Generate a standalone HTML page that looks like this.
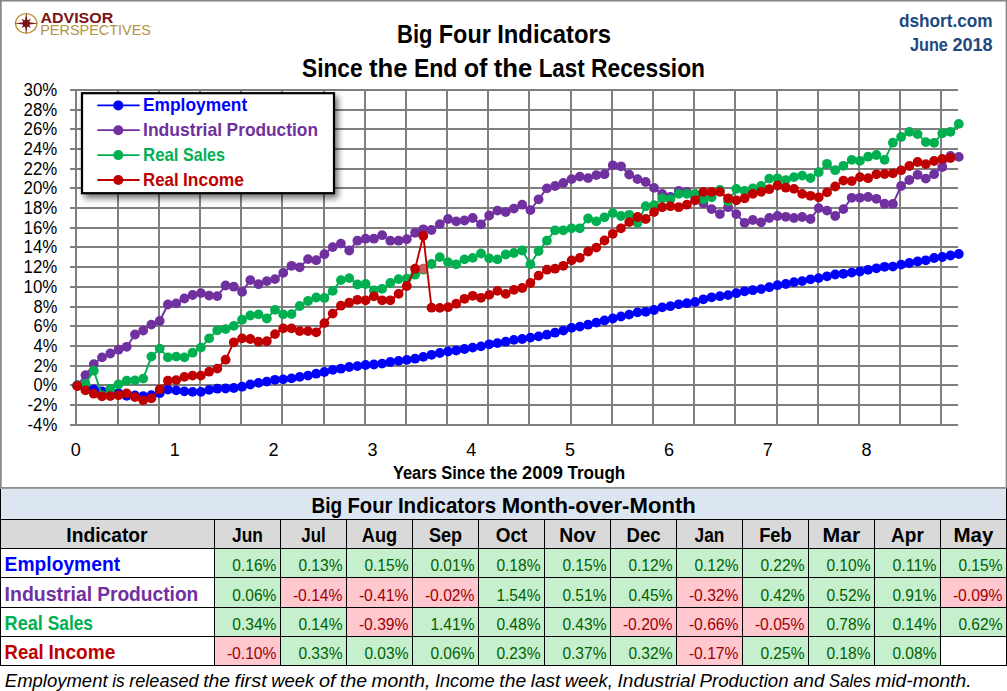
<!DOCTYPE html>
<html lang="en"><head><meta charset="utf-8"><title>Big Four Indicators</title>
<style>html,body{margin:0;padding:0;background:#fff}svg{display:block}</style></head>
<body>
<svg width="1007" height="691" viewBox="0 0 1007 691" font-family='"Liberation Sans", sans-serif'>
<defs><filter id="sh" x="-10%" y="-10%" width="130%" height="140%"><feGaussianBlur in="SourceAlpha" stdDeviation="3.3"/><feOffset dx="3" dy="4" result="b"/><feComponentTransfer><feFuncA type="linear" slope="0.55"/></feComponentTransfer><feMerge><feMergeNode/><feMergeNode in="SourceGraphic"/></feMerge></filter></defs>
<rect x="0" y="0" width="1007" height="691" fill="#ffffff"/>
<rect x="0.85" y="0.7" width="1005.65" height="487.25" fill="#ffffff" stroke="#868686" stroke-width="1.7"/>
<path d="M70 90H958 M70 110H958 M70 129H958 M70 149H958 M70 169H958 M70 188H958 M70 208H958 M70 228H958 M70 247H958 M70 267H958 M70 287H958 M70 307H958 M70 326H958 M70 346H958 M70 366H958 M70 385H958 M70 405H958 M70 425H958 M76 89V426 M118 89V426 M159 89V426 M200 89V426 M241 89V426 M282 89V426 M324 89V426 M365 89V426 M406 89V426 M447 89V426 M488 89V426 M529 89V426 M571 89V426 M612 89V426 M653 89V426 M694 89V426 M735 89V426 M777 89V426 M818 89V426 M859 89V426 M900 89V426 M941 89V426" stroke="#7f7f7f" stroke-width="2" fill="none" shape-rendering="crispEdges"/>
<g font-size="18" fill="#000">
<text x="23.6" y="95.9" textLength="33.7" lengthAdjust="spacingAndGlyphs">30%</text>
<text x="23.6" y="115.9" textLength="33.7" lengthAdjust="spacingAndGlyphs">28%</text>
<text x="23.6" y="134.9" textLength="33.7" lengthAdjust="spacingAndGlyphs">26%</text>
<text x="23.6" y="154.9" textLength="33.7" lengthAdjust="spacingAndGlyphs">24%</text>
<text x="23.6" y="174.9" textLength="33.7" lengthAdjust="spacingAndGlyphs">22%</text>
<text x="23.6" y="193.9" textLength="33.7" lengthAdjust="spacingAndGlyphs">20%</text>
<text x="23.6" y="213.9" textLength="33.7" lengthAdjust="spacingAndGlyphs">18%</text>
<text x="23.6" y="233.9" textLength="33.7" lengthAdjust="spacingAndGlyphs">16%</text>
<text x="23.6" y="252.9" textLength="33.7" lengthAdjust="spacingAndGlyphs">14%</text>
<text x="23.6" y="272.9" textLength="33.7" lengthAdjust="spacingAndGlyphs">12%</text>
<text x="23.6" y="292.9" textLength="33.7" lengthAdjust="spacingAndGlyphs">10%</text>
<text x="33.5" y="312.9" textLength="23.8" lengthAdjust="spacingAndGlyphs">8%</text>
<text x="33.5" y="331.9" textLength="23.8" lengthAdjust="spacingAndGlyphs">6%</text>
<text x="33.5" y="351.9" textLength="23.8" lengthAdjust="spacingAndGlyphs">4%</text>
<text x="33.5" y="371.9" textLength="23.8" lengthAdjust="spacingAndGlyphs">2%</text>
<text x="33.5" y="390.9" textLength="23.8" lengthAdjust="spacingAndGlyphs">0%</text>
<text x="27.5" y="410.9" textLength="29.8" lengthAdjust="spacingAndGlyphs">-2%</text>
<text x="27.5" y="430.9" textLength="29.8" lengthAdjust="spacingAndGlyphs">-4%</text>
</g>
<g font-size="18" text-anchor="middle" fill="#000">
<text x="75.8" y="455.7">0</text>
<text x="174.7" y="455.7">1</text>
<text x="273.5" y="455.7">2</text>
<text x="372.4" y="455.7">3</text>
<text x="471.2" y="455.7">4</text>
<text x="570.1" y="455.7">5</text>
<text x="668.9" y="455.7">6</text>
<text x="767.8" y="455.7">7</text>
<text x="866.6" y="455.7">8</text>
</g>
<text y="478.6" font-size="18.8" font-weight="bold"><tspan x="392.9" textLength="43.9" lengthAdjust="spacingAndGlyphs">Years</tspan> <tspan x="441.3" textLength="43.8" lengthAdjust="spacingAndGlyphs">Since</tspan> <tspan x="489.7" textLength="27.9" lengthAdjust="spacingAndGlyphs">the</tspan> <tspan x="522.1" textLength="40.8" lengthAdjust="spacingAndGlyphs">2009</tspan> <tspan x="567.5" textLength="57.8" lengthAdjust="spacingAndGlyphs">Trough</tspan></text>
<polyline points="77.3,385.5 85.5,388.0 93.8,389.5 102.0,391.3 110.3,392.8 118.5,393.2 126.7,395.8 135.0,395.4 143.2,396.1 151.4,395.2 159.7,393.2 167.9,389.6 176.2,390.4 184.4,391.4 192.6,391.9 200.9,391.9 209.1,389.9 217.3,388.7 225.6,388.5 233.8,388.0 242.1,386.7 250.3,384.5 258.5,382.9 266.8,381.6 275.0,379.8 283.2,379.4 291.5,378.4 299.7,376.9 308.0,375.6 316.2,373.7 324.4,372.0 332.7,369.9 340.9,368.7 349.2,367.0 357.4,366.1 365.6,365.0 373.9,364.5 382.1,363.6 390.3,362.0 398.6,360.9 406.8,359.9 415.1,358.7 423.3,356.9 431.5,354.8 439.8,353.0 448.0,351.5 456.2,350.5 464.5,349.0 472.7,347.6 481.0,346.4 489.2,344.3 497.4,343.1 505.7,341.7 513.9,339.9 522.2,339.0 530.4,337.6 538.6,336.4 546.9,334.7 555.1,332.7 563.3,330.6 571.6,327.9 579.8,326.6 588.1,324.7 596.3,322.6 604.5,320.5 612.8,318.5 621.0,316.5 629.2,314.6 637.5,312.4 645.7,311.8 654.0,310.0 662.2,307.4 670.4,306.2 678.7,304.3 686.9,303.2 695.1,302.0 703.4,299.3 711.6,297.3 719.9,296.2 728.1,295.1 736.3,293.2 744.6,291.3 752.8,290.2 761.1,289.1 769.3,287.2 777.5,285.2 785.8,284.0 794.0,282.2 802.2,281.1 810.5,279.3 818.7,278.1 827.0,276.3 835.2,274.5 843.4,273.8 851.7,272.6 859.9,271.5 868.1,269.8 876.4,268.3 884.6,266.8 892.9,266.6 901.1,264.6 909.3,263.0 917.6,261.5 925.8,260.3 934.1,258.0 942.3,257.0 950.5,255.5 958.8,254.0" fill="none" stroke="#0000ff" stroke-width="1.9" stroke-linejoin="round" stroke-linecap="round"/>
<g fill="#0000ff"><circle cx="77.3" cy="385.5" r="4.9"/><circle cx="85.5" cy="388.0" r="4.9"/><circle cx="93.8" cy="389.5" r="4.9"/><circle cx="102.0" cy="391.3" r="4.9"/><circle cx="110.3" cy="392.8" r="4.9"/><circle cx="118.5" cy="393.2" r="4.9"/><circle cx="126.7" cy="395.8" r="4.9"/><circle cx="135.0" cy="395.4" r="4.9"/><circle cx="143.2" cy="396.1" r="4.9"/><circle cx="151.4" cy="395.2" r="4.9"/><circle cx="159.7" cy="393.2" r="4.9"/><circle cx="167.9" cy="389.6" r="4.9"/><circle cx="176.2" cy="390.4" r="4.9"/><circle cx="184.4" cy="391.4" r="4.9"/><circle cx="192.6" cy="391.9" r="4.9"/><circle cx="200.9" cy="391.9" r="4.9"/><circle cx="209.1" cy="389.9" r="4.9"/><circle cx="217.3" cy="388.7" r="4.9"/><circle cx="225.6" cy="388.5" r="4.9"/><circle cx="233.8" cy="388.0" r="4.9"/><circle cx="242.1" cy="386.7" r="4.9"/><circle cx="250.3" cy="384.5" r="4.9"/><circle cx="258.5" cy="382.9" r="4.9"/><circle cx="266.8" cy="381.6" r="4.9"/><circle cx="275.0" cy="379.8" r="4.9"/><circle cx="283.2" cy="379.4" r="4.9"/><circle cx="291.5" cy="378.4" r="4.9"/><circle cx="299.7" cy="376.9" r="4.9"/><circle cx="308.0" cy="375.6" r="4.9"/><circle cx="316.2" cy="373.7" r="4.9"/><circle cx="324.4" cy="372.0" r="4.9"/><circle cx="332.7" cy="369.9" r="4.9"/><circle cx="340.9" cy="368.7" r="4.9"/><circle cx="349.2" cy="367.0" r="4.9"/><circle cx="357.4" cy="366.1" r="4.9"/><circle cx="365.6" cy="365.0" r="4.9"/><circle cx="373.9" cy="364.5" r="4.9"/><circle cx="382.1" cy="363.6" r="4.9"/><circle cx="390.3" cy="362.0" r="4.9"/><circle cx="398.6" cy="360.9" r="4.9"/><circle cx="406.8" cy="359.9" r="4.9"/><circle cx="415.1" cy="358.7" r="4.9"/><circle cx="423.3" cy="356.9" r="4.9"/><circle cx="431.5" cy="354.8" r="4.9"/><circle cx="439.8" cy="353.0" r="4.9"/><circle cx="448.0" cy="351.5" r="4.9"/><circle cx="456.2" cy="350.5" r="4.9"/><circle cx="464.5" cy="349.0" r="4.9"/><circle cx="472.7" cy="347.6" r="4.9"/><circle cx="481.0" cy="346.4" r="4.9"/><circle cx="489.2" cy="344.3" r="4.9"/><circle cx="497.4" cy="343.1" r="4.9"/><circle cx="505.7" cy="341.7" r="4.9"/><circle cx="513.9" cy="339.9" r="4.9"/><circle cx="522.2" cy="339.0" r="4.9"/><circle cx="530.4" cy="337.6" r="4.9"/><circle cx="538.6" cy="336.4" r="4.9"/><circle cx="546.9" cy="334.7" r="4.9"/><circle cx="555.1" cy="332.7" r="4.9"/><circle cx="563.3" cy="330.6" r="4.9"/><circle cx="571.6" cy="327.9" r="4.9"/><circle cx="579.8" cy="326.6" r="4.9"/><circle cx="588.1" cy="324.7" r="4.9"/><circle cx="596.3" cy="322.6" r="4.9"/><circle cx="604.5" cy="320.5" r="4.9"/><circle cx="612.8" cy="318.5" r="4.9"/><circle cx="621.0" cy="316.5" r="4.9"/><circle cx="629.2" cy="314.6" r="4.9"/><circle cx="637.5" cy="312.4" r="4.9"/><circle cx="645.7" cy="311.8" r="4.9"/><circle cx="654.0" cy="310.0" r="4.9"/><circle cx="662.2" cy="307.4" r="4.9"/><circle cx="670.4" cy="306.2" r="4.9"/><circle cx="678.7" cy="304.3" r="4.9"/><circle cx="686.9" cy="303.2" r="4.9"/><circle cx="695.1" cy="302.0" r="4.9"/><circle cx="703.4" cy="299.3" r="4.9"/><circle cx="711.6" cy="297.3" r="4.9"/><circle cx="719.9" cy="296.2" r="4.9"/><circle cx="728.1" cy="295.1" r="4.9"/><circle cx="736.3" cy="293.2" r="4.9"/><circle cx="744.6" cy="291.3" r="4.9"/><circle cx="752.8" cy="290.2" r="4.9"/><circle cx="761.1" cy="289.1" r="4.9"/><circle cx="769.3" cy="287.2" r="4.9"/><circle cx="777.5" cy="285.2" r="4.9"/><circle cx="785.8" cy="284.0" r="4.9"/><circle cx="794.0" cy="282.2" r="4.9"/><circle cx="802.2" cy="281.1" r="4.9"/><circle cx="810.5" cy="279.3" r="4.9"/><circle cx="818.7" cy="278.1" r="4.9"/><circle cx="827.0" cy="276.3" r="4.9"/><circle cx="835.2" cy="274.5" r="4.9"/><circle cx="843.4" cy="273.8" r="4.9"/><circle cx="851.7" cy="272.6" r="4.9"/><circle cx="859.9" cy="271.5" r="4.9"/><circle cx="868.1" cy="269.8" r="4.9"/><circle cx="876.4" cy="268.3" r="4.9"/><circle cx="884.6" cy="266.8" r="4.9"/><circle cx="892.9" cy="266.6" r="4.9"/><circle cx="901.1" cy="264.6" r="4.9"/><circle cx="909.3" cy="263.0" r="4.9"/><circle cx="917.6" cy="261.5" r="4.9"/><circle cx="925.8" cy="260.3" r="4.9"/><circle cx="934.1" cy="258.0" r="4.9"/><circle cx="942.3" cy="257.0" r="4.9"/><circle cx="950.5" cy="255.5" r="4.9"/><circle cx="958.8" cy="254.0" r="4.9"/></g>
<polyline points="77.3,385.5 85.5,375.2 93.8,364.1 102.0,357.4 110.3,353.5 118.5,349.7 126.7,346.8 135.0,334.5 143.2,330.5 151.4,324.6 159.7,321.0 167.9,304.5 176.2,303.4 184.4,298.5 192.6,295.0 200.9,293.1 209.1,295.6 217.3,296.1 225.6,285.5 233.8,286.7 242.1,291.9 250.3,280.1 258.5,284.2 266.8,281.1 275.0,279.1 283.2,272.9 291.5,265.8 299.7,267.3 308.0,259.1 316.2,260.2 324.4,254.2 332.7,247.1 340.9,243.6 349.2,250.5 357.4,240.7 365.6,238.7 373.9,238.7 382.1,235.2 390.3,240.7 398.6,240.7 406.8,239.2 415.1,232.8 423.3,229.3 431.5,230.0 439.8,224.1 448.0,219.0 456.2,221.4 464.5,220.5 472.7,218.0 481.0,224.4 489.2,215.5 497.4,210.6 505.7,212.1 513.9,208.6 522.2,204.7 530.4,210.1 538.6,199.3 546.9,188.4 555.1,186.0 563.3,183.0 571.6,179.1 579.8,176.6 588.1,178.1 596.3,175.1 604.5,174.2 612.8,165.3 621.0,166.3 629.2,174.6 637.5,179.1 645.7,182.0 654.0,187.9 662.2,193.9 670.4,196.8 678.7,190.9 686.9,191.9 695.1,196.3 703.4,203.2 711.6,209.1 719.9,214.1 728.1,207.2 736.3,214.1 744.6,222.9 752.8,220.0 761.1,222.4 769.3,218.0 777.5,216.0 785.8,216.8 794.0,218.0 802.2,217.0 810.5,219.0 818.7,208.1 827.0,210.6 835.2,216.0 843.4,209.1 851.7,197.8 859.9,197.8 868.1,197.0 876.4,198.8 884.6,203.7 892.9,203.9 901.1,186.0 909.3,180.0 917.6,174.8 925.8,178.6 934.1,174.2 942.3,167.0 950.5,155.9 958.8,156.9" fill="none" stroke="#7030a0" stroke-width="1.9" stroke-linejoin="round" stroke-linecap="round"/>
<g fill="#7030a0"><circle cx="77.3" cy="385.5" r="4.9"/><circle cx="85.5" cy="375.2" r="4.9"/><circle cx="93.8" cy="364.1" r="4.9"/><circle cx="102.0" cy="357.4" r="4.9"/><circle cx="110.3" cy="353.5" r="4.9"/><circle cx="118.5" cy="349.7" r="4.9"/><circle cx="126.7" cy="346.8" r="4.9"/><circle cx="135.0" cy="334.5" r="4.9"/><circle cx="143.2" cy="330.5" r="4.9"/><circle cx="151.4" cy="324.6" r="4.9"/><circle cx="159.7" cy="321.0" r="4.9"/><circle cx="167.9" cy="304.5" r="4.9"/><circle cx="176.2" cy="303.4" r="4.9"/><circle cx="184.4" cy="298.5" r="4.9"/><circle cx="192.6" cy="295.0" r="4.9"/><circle cx="200.9" cy="293.1" r="4.9"/><circle cx="209.1" cy="295.6" r="4.9"/><circle cx="217.3" cy="296.1" r="4.9"/><circle cx="225.6" cy="285.5" r="4.9"/><circle cx="233.8" cy="286.7" r="4.9"/><circle cx="242.1" cy="291.9" r="4.9"/><circle cx="250.3" cy="280.1" r="4.9"/><circle cx="258.5" cy="284.2" r="4.9"/><circle cx="266.8" cy="281.1" r="4.9"/><circle cx="275.0" cy="279.1" r="4.9"/><circle cx="283.2" cy="272.9" r="4.9"/><circle cx="291.5" cy="265.8" r="4.9"/><circle cx="299.7" cy="267.3" r="4.9"/><circle cx="308.0" cy="259.1" r="4.9"/><circle cx="316.2" cy="260.2" r="4.9"/><circle cx="324.4" cy="254.2" r="4.9"/><circle cx="332.7" cy="247.1" r="4.9"/><circle cx="340.9" cy="243.6" r="4.9"/><circle cx="349.2" cy="250.5" r="4.9"/><circle cx="357.4" cy="240.7" r="4.9"/><circle cx="365.6" cy="238.7" r="4.9"/><circle cx="373.9" cy="238.7" r="4.9"/><circle cx="382.1" cy="235.2" r="4.9"/><circle cx="390.3" cy="240.7" r="4.9"/><circle cx="398.6" cy="240.7" r="4.9"/><circle cx="406.8" cy="239.2" r="4.9"/><circle cx="415.1" cy="232.8" r="4.9"/><circle cx="423.3" cy="229.3" r="4.9"/><circle cx="431.5" cy="230.0" r="4.9"/><circle cx="439.8" cy="224.1" r="4.9"/><circle cx="448.0" cy="219.0" r="4.9"/><circle cx="456.2" cy="221.4" r="4.9"/><circle cx="464.5" cy="220.5" r="4.9"/><circle cx="472.7" cy="218.0" r="4.9"/><circle cx="481.0" cy="224.4" r="4.9"/><circle cx="489.2" cy="215.5" r="4.9"/><circle cx="497.4" cy="210.6" r="4.9"/><circle cx="505.7" cy="212.1" r="4.9"/><circle cx="513.9" cy="208.6" r="4.9"/><circle cx="522.2" cy="204.7" r="4.9"/><circle cx="530.4" cy="210.1" r="4.9"/><circle cx="538.6" cy="199.3" r="4.9"/><circle cx="546.9" cy="188.4" r="4.9"/><circle cx="555.1" cy="186.0" r="4.9"/><circle cx="563.3" cy="183.0" r="4.9"/><circle cx="571.6" cy="179.1" r="4.9"/><circle cx="579.8" cy="176.6" r="4.9"/><circle cx="588.1" cy="178.1" r="4.9"/><circle cx="596.3" cy="175.1" r="4.9"/><circle cx="604.5" cy="174.2" r="4.9"/><circle cx="612.8" cy="165.3" r="4.9"/><circle cx="621.0" cy="166.3" r="4.9"/><circle cx="629.2" cy="174.6" r="4.9"/><circle cx="637.5" cy="179.1" r="4.9"/><circle cx="645.7" cy="182.0" r="4.9"/><circle cx="654.0" cy="187.9" r="4.9"/><circle cx="662.2" cy="193.9" r="4.9"/><circle cx="670.4" cy="196.8" r="4.9"/><circle cx="678.7" cy="190.9" r="4.9"/><circle cx="686.9" cy="191.9" r="4.9"/><circle cx="695.1" cy="196.3" r="4.9"/><circle cx="703.4" cy="203.2" r="4.9"/><circle cx="711.6" cy="209.1" r="4.9"/><circle cx="719.9" cy="214.1" r="4.9"/><circle cx="728.1" cy="207.2" r="4.9"/><circle cx="736.3" cy="214.1" r="4.9"/><circle cx="744.6" cy="222.9" r="4.9"/><circle cx="752.8" cy="220.0" r="4.9"/><circle cx="761.1" cy="222.4" r="4.9"/><circle cx="769.3" cy="218.0" r="4.9"/><circle cx="777.5" cy="216.0" r="4.9"/><circle cx="785.8" cy="216.8" r="4.9"/><circle cx="794.0" cy="218.0" r="4.9"/><circle cx="802.2" cy="217.0" r="4.9"/><circle cx="810.5" cy="219.0" r="4.9"/><circle cx="818.7" cy="208.1" r="4.9"/><circle cx="827.0" cy="210.6" r="4.9"/><circle cx="835.2" cy="216.0" r="4.9"/><circle cx="843.4" cy="209.1" r="4.9"/><circle cx="851.7" cy="197.8" r="4.9"/><circle cx="859.9" cy="197.8" r="4.9"/><circle cx="868.1" cy="197.0" r="4.9"/><circle cx="876.4" cy="198.8" r="4.9"/><circle cx="884.6" cy="203.7" r="4.9"/><circle cx="892.9" cy="203.9" r="4.9"/><circle cx="901.1" cy="186.0" r="4.9"/><circle cx="909.3" cy="180.0" r="4.9"/><circle cx="917.6" cy="174.8" r="4.9"/><circle cx="925.8" cy="178.6" r="4.9"/><circle cx="934.1" cy="174.2" r="4.9"/><circle cx="942.3" cy="167.0" r="4.9"/><circle cx="950.5" cy="155.9" r="4.9"/><circle cx="958.8" cy="156.9" r="4.9"/></g>
<polyline points="77.3,385.5 85.5,383.8 93.8,370.7 102.0,395.4 110.3,388.9 118.5,384.3 126.7,380.6 135.0,380.4 143.2,378.6 151.4,356.6 159.7,348.6 167.9,357.4 176.2,356.6 184.4,357.4 192.6,352.7 200.9,347.6 209.1,338.4 217.3,330.3 225.6,329.1 233.8,325.9 242.1,319.7 250.3,315.5 258.5,314.4 266.8,318.5 275.0,309.9 283.2,314.4 291.5,314.1 299.7,306.0 308.0,301.0 316.2,297.5 324.4,298.0 332.7,290.9 340.9,280.1 349.2,278.1 357.4,284.5 365.6,284.0 373.9,290.4 382.1,288.9 390.3,283.0 398.6,279.1 406.8,278.6 415.1,274.7 423.3,269.7 431.5,264.0 439.8,257.1 448.0,262.1 456.2,264.3 464.5,259.4 472.7,257.9 481.0,253.5 489.2,258.4 497.4,259.4 505.7,254.5 513.9,253.0 522.2,250.5 530.4,264.3 538.6,251.0 546.9,240.7 555.1,230.3 563.3,230.3 571.6,228.3 579.8,228.3 588.1,218.5 596.3,221.4 604.5,217.3 612.8,213.1 621.0,216.0 629.2,214.8 637.5,222.9 645.7,206.2 654.0,205.2 662.2,198.3 670.4,199.3 678.7,193.9 686.9,193.9 695.1,193.9 703.4,199.3 711.6,197.3 719.9,189.9 728.1,201.2 736.3,188.9 744.6,190.9 752.8,188.4 761.1,186.0 769.3,178.6 777.5,178.3 785.8,180.1 794.0,177.1 802.2,175.6 810.5,178.1 818.7,172.2 827.0,163.8 835.2,170.2 843.4,165.8 851.7,159.9 859.9,160.9 868.1,156.7 876.4,155.0 884.6,159.8 892.9,142.7 901.1,137.0 909.3,131.9 917.6,134.1 925.8,142.1 934.1,142.8 942.3,133.3 950.5,131.8 958.8,123.9" fill="none" stroke="#00b050" stroke-width="1.9" stroke-linejoin="round" stroke-linecap="round"/>
<g fill="#00b050"><circle cx="77.3" cy="385.5" r="4.9"/><circle cx="85.5" cy="383.8" r="4.9"/><circle cx="93.8" cy="370.7" r="4.9"/><circle cx="102.0" cy="395.4" r="4.9"/><circle cx="110.3" cy="388.9" r="4.9"/><circle cx="118.5" cy="384.3" r="4.9"/><circle cx="126.7" cy="380.6" r="4.9"/><circle cx="135.0" cy="380.4" r="4.9"/><circle cx="143.2" cy="378.6" r="4.9"/><circle cx="151.4" cy="356.6" r="4.9"/><circle cx="159.7" cy="348.6" r="4.9"/><circle cx="167.9" cy="357.4" r="4.9"/><circle cx="176.2" cy="356.6" r="4.9"/><circle cx="184.4" cy="357.4" r="4.9"/><circle cx="192.6" cy="352.7" r="4.9"/><circle cx="200.9" cy="347.6" r="4.9"/><circle cx="209.1" cy="338.4" r="4.9"/><circle cx="217.3" cy="330.3" r="4.9"/><circle cx="225.6" cy="329.1" r="4.9"/><circle cx="233.8" cy="325.9" r="4.9"/><circle cx="242.1" cy="319.7" r="4.9"/><circle cx="250.3" cy="315.5" r="4.9"/><circle cx="258.5" cy="314.4" r="4.9"/><circle cx="266.8" cy="318.5" r="4.9"/><circle cx="275.0" cy="309.9" r="4.9"/><circle cx="283.2" cy="314.4" r="4.9"/><circle cx="291.5" cy="314.1" r="4.9"/><circle cx="299.7" cy="306.0" r="4.9"/><circle cx="308.0" cy="301.0" r="4.9"/><circle cx="316.2" cy="297.5" r="4.9"/><circle cx="324.4" cy="298.0" r="4.9"/><circle cx="332.7" cy="290.9" r="4.9"/><circle cx="340.9" cy="280.1" r="4.9"/><circle cx="349.2" cy="278.1" r="4.9"/><circle cx="357.4" cy="284.5" r="4.9"/><circle cx="365.6" cy="284.0" r="4.9"/><circle cx="373.9" cy="290.4" r="4.9"/><circle cx="382.1" cy="288.9" r="4.9"/><circle cx="390.3" cy="283.0" r="4.9"/><circle cx="398.6" cy="279.1" r="4.9"/><circle cx="406.8" cy="278.6" r="4.9"/><circle cx="415.1" cy="274.7" r="4.9"/><circle cx="423.3" cy="269.7" r="4.9"/><circle cx="431.5" cy="264.0" r="4.9"/><circle cx="439.8" cy="257.1" r="4.9"/><circle cx="448.0" cy="262.1" r="4.9"/><circle cx="456.2" cy="264.3" r="4.9"/><circle cx="464.5" cy="259.4" r="4.9"/><circle cx="472.7" cy="257.9" r="4.9"/><circle cx="481.0" cy="253.5" r="4.9"/><circle cx="489.2" cy="258.4" r="4.9"/><circle cx="497.4" cy="259.4" r="4.9"/><circle cx="505.7" cy="254.5" r="4.9"/><circle cx="513.9" cy="253.0" r="4.9"/><circle cx="522.2" cy="250.5" r="4.9"/><circle cx="530.4" cy="264.3" r="4.9"/><circle cx="538.6" cy="251.0" r="4.9"/><circle cx="546.9" cy="240.7" r="4.9"/><circle cx="555.1" cy="230.3" r="4.9"/><circle cx="563.3" cy="230.3" r="4.9"/><circle cx="571.6" cy="228.3" r="4.9"/><circle cx="579.8" cy="228.3" r="4.9"/><circle cx="588.1" cy="218.5" r="4.9"/><circle cx="596.3" cy="221.4" r="4.9"/><circle cx="604.5" cy="217.3" r="4.9"/><circle cx="612.8" cy="213.1" r="4.9"/><circle cx="621.0" cy="216.0" r="4.9"/><circle cx="629.2" cy="214.8" r="4.9"/><circle cx="637.5" cy="222.9" r="4.9"/><circle cx="645.7" cy="206.2" r="4.9"/><circle cx="654.0" cy="205.2" r="4.9"/><circle cx="662.2" cy="198.3" r="4.9"/><circle cx="670.4" cy="199.3" r="4.9"/><circle cx="678.7" cy="193.9" r="4.9"/><circle cx="686.9" cy="193.9" r="4.9"/><circle cx="695.1" cy="193.9" r="4.9"/><circle cx="703.4" cy="199.3" r="4.9"/><circle cx="711.6" cy="197.3" r="4.9"/><circle cx="719.9" cy="189.9" r="4.9"/><circle cx="728.1" cy="201.2" r="4.9"/><circle cx="736.3" cy="188.9" r="4.9"/><circle cx="744.6" cy="190.9" r="4.9"/><circle cx="752.8" cy="188.4" r="4.9"/><circle cx="761.1" cy="186.0" r="4.9"/><circle cx="769.3" cy="178.6" r="4.9"/><circle cx="777.5" cy="178.3" r="4.9"/><circle cx="785.8" cy="180.1" r="4.9"/><circle cx="794.0" cy="177.1" r="4.9"/><circle cx="802.2" cy="175.6" r="4.9"/><circle cx="810.5" cy="178.1" r="4.9"/><circle cx="818.7" cy="172.2" r="4.9"/><circle cx="827.0" cy="163.8" r="4.9"/><circle cx="835.2" cy="170.2" r="4.9"/><circle cx="843.4" cy="165.8" r="4.9"/><circle cx="851.7" cy="159.9" r="4.9"/><circle cx="859.9" cy="160.9" r="4.9"/><circle cx="868.1" cy="156.7" r="4.9"/><circle cx="876.4" cy="155.0" r="4.9"/><circle cx="884.6" cy="159.8" r="4.9"/><circle cx="892.9" cy="142.7" r="4.9"/><circle cx="901.1" cy="137.0" r="4.9"/><circle cx="909.3" cy="131.9" r="4.9"/><circle cx="917.6" cy="134.1" r="4.9"/><circle cx="925.8" cy="142.1" r="4.9"/><circle cx="934.1" cy="142.8" r="4.9"/><circle cx="942.3" cy="133.3" r="4.9"/><circle cx="950.5" cy="131.8" r="4.9"/><circle cx="958.8" cy="123.9" r="4.9"/></g>
<circle cx="423.3" cy="268.7" r="4.9" fill="#c95c5c"/>
<polyline points="77.3,386.0 85.5,390.4 93.8,393.7 102.0,396.3 110.3,396.1 118.5,395.2 126.7,393.4 135.0,397.1 143.2,400.3 151.4,398.3 159.7,389.4 167.9,380.6 176.2,380.1 184.4,376.9 192.6,375.6 200.9,375.6 209.1,371.7 217.3,368.6 225.6,359.7 233.8,342.3 242.1,338.4 250.3,339.0 258.5,341.7 266.8,341.2 275.0,334.1 283.2,328.4 291.5,328.4 299.7,331.1 308.0,331.1 316.2,332.3 324.4,323.1 332.7,313.6 340.9,305.7 349.2,302.7 357.4,299.8 365.6,300.3 373.9,296.3 382.1,300.3 390.3,300.3 398.6,293.9 406.8,286.0 415.1,268.7 423.3,235.7 431.5,307.7 439.8,307.9 448.0,307.2 456.2,303.7 464.5,298.8 472.7,295.8 481.0,297.8 489.2,294.9 497.4,290.9 505.7,293.9 513.9,289.9 522.2,288.0 530.4,283.0 538.6,275.6 546.9,269.7 555.1,268.7 563.3,265.8 571.6,260.4 579.8,257.9 588.1,251.5 596.3,247.6 604.5,240.5 612.8,233.8 621.0,228.3 629.2,222.1 637.5,217.0 645.7,219.0 654.0,212.1 662.2,207.2 670.4,206.2 678.7,207.2 686.9,204.7 695.1,200.3 703.4,191.9 711.6,191.9 719.9,191.9 728.1,198.3 736.3,200.3 744.6,198.3 752.8,193.9 761.1,191.9 769.3,189.2 777.5,185.5 785.8,187.7 794.0,188.9 802.2,193.9 810.5,195.8 818.7,197.3 827.0,192.4 835.2,186.5 843.4,180.6 851.7,181.1 859.9,177.1 868.1,178.2 876.4,174.3 884.6,174.0 892.9,173.3 901.1,170.4 909.3,166.0 917.6,162.0 925.8,164.1 934.1,161.0 942.3,158.9 950.5,158.0" fill="none" stroke="#c00000" stroke-width="1.9" stroke-linejoin="round" stroke-linecap="round"/>
<g fill="#c00000"><circle cx="77.3" cy="386.0" r="4.9"/><circle cx="85.5" cy="390.4" r="4.9"/><circle cx="93.8" cy="393.7" r="4.9"/><circle cx="102.0" cy="396.3" r="4.9"/><circle cx="110.3" cy="396.1" r="4.9"/><circle cx="118.5" cy="395.2" r="4.9"/><circle cx="126.7" cy="393.4" r="4.9"/><circle cx="135.0" cy="397.1" r="4.9"/><circle cx="143.2" cy="400.3" r="4.9"/><circle cx="151.4" cy="398.3" r="4.9"/><circle cx="159.7" cy="389.4" r="4.9"/><circle cx="167.9" cy="380.6" r="4.9"/><circle cx="176.2" cy="380.1" r="4.9"/><circle cx="184.4" cy="376.9" r="4.9"/><circle cx="192.6" cy="375.6" r="4.9"/><circle cx="200.9" cy="375.6" r="4.9"/><circle cx="209.1" cy="371.7" r="4.9"/><circle cx="217.3" cy="368.6" r="4.9"/><circle cx="225.6" cy="359.7" r="4.9"/><circle cx="233.8" cy="342.3" r="4.9"/><circle cx="242.1" cy="338.4" r="4.9"/><circle cx="250.3" cy="339.0" r="4.9"/><circle cx="258.5" cy="341.7" r="4.9"/><circle cx="266.8" cy="341.2" r="4.9"/><circle cx="275.0" cy="334.1" r="4.9"/><circle cx="283.2" cy="328.4" r="4.9"/><circle cx="291.5" cy="328.4" r="4.9"/><circle cx="299.7" cy="331.1" r="4.9"/><circle cx="308.0" cy="331.1" r="4.9"/><circle cx="316.2" cy="332.3" r="4.9"/><circle cx="324.4" cy="323.1" r="4.9"/><circle cx="332.7" cy="313.6" r="4.9"/><circle cx="340.9" cy="305.7" r="4.9"/><circle cx="349.2" cy="302.7" r="4.9"/><circle cx="357.4" cy="299.8" r="4.9"/><circle cx="365.6" cy="300.3" r="4.9"/><circle cx="373.9" cy="296.3" r="4.9"/><circle cx="382.1" cy="300.3" r="4.9"/><circle cx="390.3" cy="300.3" r="4.9"/><circle cx="398.6" cy="293.9" r="4.9"/><circle cx="406.8" cy="286.0" r="4.9"/><circle cx="415.1" cy="268.7" r="4.9"/><circle cx="423.3" cy="235.7" r="4.9"/><circle cx="431.5" cy="307.7" r="4.9"/><circle cx="439.8" cy="307.9" r="4.9"/><circle cx="448.0" cy="307.2" r="4.9"/><circle cx="456.2" cy="303.7" r="4.9"/><circle cx="464.5" cy="298.8" r="4.9"/><circle cx="472.7" cy="295.8" r="4.9"/><circle cx="481.0" cy="297.8" r="4.9"/><circle cx="489.2" cy="294.9" r="4.9"/><circle cx="497.4" cy="290.9" r="4.9"/><circle cx="505.7" cy="293.9" r="4.9"/><circle cx="513.9" cy="289.9" r="4.9"/><circle cx="522.2" cy="288.0" r="4.9"/><circle cx="530.4" cy="283.0" r="4.9"/><circle cx="538.6" cy="275.6" r="4.9"/><circle cx="546.9" cy="269.7" r="4.9"/><circle cx="555.1" cy="268.7" r="4.9"/><circle cx="563.3" cy="265.8" r="4.9"/><circle cx="571.6" cy="260.4" r="4.9"/><circle cx="579.8" cy="257.9" r="4.9"/><circle cx="588.1" cy="251.5" r="4.9"/><circle cx="596.3" cy="247.6" r="4.9"/><circle cx="604.5" cy="240.5" r="4.9"/><circle cx="612.8" cy="233.8" r="4.9"/><circle cx="621.0" cy="228.3" r="4.9"/><circle cx="629.2" cy="222.1" r="4.9"/><circle cx="637.5" cy="217.0" r="4.9"/><circle cx="645.7" cy="219.0" r="4.9"/><circle cx="654.0" cy="212.1" r="4.9"/><circle cx="662.2" cy="207.2" r="4.9"/><circle cx="670.4" cy="206.2" r="4.9"/><circle cx="678.7" cy="207.2" r="4.9"/><circle cx="686.9" cy="204.7" r="4.9"/><circle cx="695.1" cy="200.3" r="4.9"/><circle cx="703.4" cy="191.9" r="4.9"/><circle cx="711.6" cy="191.9" r="4.9"/><circle cx="719.9" cy="191.9" r="4.9"/><circle cx="728.1" cy="198.3" r="4.9"/><circle cx="736.3" cy="200.3" r="4.9"/><circle cx="744.6" cy="198.3" r="4.9"/><circle cx="752.8" cy="193.9" r="4.9"/><circle cx="761.1" cy="191.9" r="4.9"/><circle cx="769.3" cy="189.2" r="4.9"/><circle cx="777.5" cy="185.5" r="4.9"/><circle cx="785.8" cy="187.7" r="4.9"/><circle cx="794.0" cy="188.9" r="4.9"/><circle cx="802.2" cy="193.9" r="4.9"/><circle cx="810.5" cy="195.8" r="4.9"/><circle cx="818.7" cy="197.3" r="4.9"/><circle cx="827.0" cy="192.4" r="4.9"/><circle cx="835.2" cy="186.5" r="4.9"/><circle cx="843.4" cy="180.6" r="4.9"/><circle cx="851.7" cy="181.1" r="4.9"/><circle cx="859.9" cy="177.1" r="4.9"/><circle cx="868.1" cy="178.2" r="4.9"/><circle cx="876.4" cy="174.3" r="4.9"/><circle cx="884.6" cy="174.0" r="4.9"/><circle cx="892.9" cy="173.3" r="4.9"/><circle cx="901.1" cy="170.4" r="4.9"/><circle cx="909.3" cy="166.0" r="4.9"/><circle cx="917.6" cy="162.0" r="4.9"/><circle cx="925.8" cy="164.1" r="4.9"/><circle cx="934.1" cy="161.0" r="4.9"/><circle cx="942.3" cy="158.9" r="4.9"/><circle cx="950.5" cy="158.0" r="4.9"/></g>
<g filter="url(#sh)"><rect x="82" y="93.2" width="252" height="100" fill="#fff" stroke="#000" stroke-width="2.2"/></g>
<path d="M98 105.4H139" stroke="#0000ff" stroke-width="1.8" stroke-linecap="round"/><circle cx="118.3" cy="105.4" r="5" fill="#0000ff"/>
<text y="110.7" font-size="18.6" font-weight="bold" fill="#0000ff"><tspan x="143.0" textLength="104.2" lengthAdjust="spacingAndGlyphs">Employment</tspan></text>
<path d="M98 130.2H139" stroke="#7030a0" stroke-width="1.8" stroke-linecap="round"/><circle cx="118.3" cy="130.2" r="5" fill="#7030a0"/>
<text y="135.7" font-size="18.6" font-weight="bold" fill="#7030a0"><tspan x="143.0" textLength="79.1" lengthAdjust="spacingAndGlyphs">Industrial</tspan> <tspan x="226.6" textLength="91.4" lengthAdjust="spacingAndGlyphs">Production</tspan></text>
<path d="M98 155.1H139" stroke="#00b050" stroke-width="1.8" stroke-linecap="round"/><circle cx="118.3" cy="155.1" r="5" fill="#00b050"/>
<text y="160.7" font-size="18.6" font-weight="bold" fill="#00b050"><tspan x="143.0" textLength="35.5" lengthAdjust="spacingAndGlyphs">Real</tspan> <tspan x="183.0" textLength="42.0" lengthAdjust="spacingAndGlyphs">Sales</tspan></text>
<path d="M98 180.0H139" stroke="#c00000" stroke-width="1.8" stroke-linecap="round"/><circle cx="118.3" cy="180.0" r="5" fill="#c00000"/>
<text y="185.7" font-size="18.6" font-weight="bold" fill="#c00000"><tspan x="143.0" textLength="35.6" lengthAdjust="spacingAndGlyphs">Real</tspan> <tspan x="183.0" textLength="61.0" lengthAdjust="spacingAndGlyphs">Income</tspan></text>
<text y="42.5" font-size="25.9" font-weight="bold"><tspan x="397.0" textLength="35.5" lengthAdjust="spacingAndGlyphs">Big</tspan> <tspan x="438.8" textLength="52.1" lengthAdjust="spacingAndGlyphs">Four</tspan> <tspan x="497.2" textLength="113.8" lengthAdjust="spacingAndGlyphs">Indicators</tspan></text>
<text y="76.6" font-size="25.9" font-weight="bold"><tspan x="302.0" textLength="60.6" lengthAdjust="spacingAndGlyphs">Since</tspan> <tspan x="368.9" textLength="38.6" lengthAdjust="spacingAndGlyphs">the</tspan> <tspan x="413.9" textLength="43.5" lengthAdjust="spacingAndGlyphs">End</tspan> <tspan x="463.7" textLength="23.8" lengthAdjust="spacingAndGlyphs">of</tspan> <tspan x="493.8" textLength="38.6" lengthAdjust="spacingAndGlyphs">the</tspan> <tspan x="538.7" textLength="46.0" lengthAdjust="spacingAndGlyphs">Last</tspan> <tspan x="591.0" textLength="114.0" lengthAdjust="spacingAndGlyphs">Recession</tspan></text>
<text x="898.9" y="26.8" font-size="18.5" font-weight="bold" fill="#1f497d" textLength="93.8" lengthAdjust="spacingAndGlyphs">dshort.com</text>
<text y="50.8" font-size="18.5" font-weight="bold" fill="#1f497d"><tspan x="909.9" textLength="38.0" lengthAdjust="spacingAndGlyphs">June</tspan> <tspan x="952.4" textLength="40.3" lengthAdjust="spacingAndGlyphs">2018</tspan></text>
<g id="logo">
<ellipse cx="26.2" cy="23.4" rx="10.65" ry="9.75" fill="none" stroke="#b8963c" stroke-width="1.35"/>
<polygon points="26.20,12.20 27.39,20.54 30.87,18.73 29.06,22.21 38.20,23.40 29.06,24.59 30.87,28.07 27.39,26.26 26.20,34.60 25.01,26.26 21.53,28.07 23.34,24.59 14.20,23.40 23.34,22.21 21.53,18.73 25.01,20.54" fill="#7a1216"/>
<circle cx="26.2" cy="23.4" r="3.4" fill="#7a1216"/>
<text x="40.5" y="22.6" font-size="15.1" font-weight="bold" fill="#7a1216" textLength="72.7" lengthAdjust="spacingAndGlyphs">ADVISOR</text>
<text x="40.2" y="34.6" font-size="14.6" fill="#b3933f" textLength="110.8" lengthAdjust="spacingAndGlyphs">PERSPECTIVES</text>
</g>
<rect x="0" y="489" width="1007" height="30.5" fill="#dce6f1"/>
<rect x="0" y="519.5" width="1007" height="29" fill="#d9d9d9"/>
<text y="512.8" font-size="22.2" font-weight="bold"><tspan x="311.4" textLength="30.7" lengthAdjust="spacingAndGlyphs">Big</tspan> <tspan x="347.5" textLength="45.0" lengthAdjust="spacingAndGlyphs">Four</tspan> <tspan x="397.9" textLength="98.3" lengthAdjust="spacingAndGlyphs">Indicators</tspan> <tspan x="501.7" textLength="194.1" lengthAdjust="spacingAndGlyphs">Month-over-Month</tspan></text>
<rect x="214.5" y="548.5" width="66" height="29.0" fill="#c6efce"/>
<rect x="280.5" y="548.5" width="66" height="29.0" fill="#c6efce"/>
<rect x="346.5" y="548.5" width="66" height="29.0" fill="#c6efce"/>
<rect x="412.5" y="548.5" width="66" height="29.0" fill="#c6efce"/>
<rect x="478.5" y="548.5" width="66" height="29.0" fill="#c6efce"/>
<rect x="544.5" y="548.5" width="66" height="29.0" fill="#c6efce"/>
<rect x="610.5" y="548.5" width="66" height="29.0" fill="#c6efce"/>
<rect x="676.5" y="548.5" width="66" height="29.0" fill="#c6efce"/>
<rect x="742.5" y="548.5" width="66" height="29.0" fill="#c6efce"/>
<rect x="808.5" y="548.5" width="66" height="29.0" fill="#c6efce"/>
<rect x="874.5" y="548.5" width="66" height="29.0" fill="#c6efce"/>
<rect x="940.5" y="548.5" width="67" height="29.0" fill="#c6efce"/>
<rect x="214.5" y="577.5" width="66" height="30.0" fill="#c6efce"/>
<rect x="280.5" y="577.5" width="66" height="30.0" fill="#ffc7ce"/>
<rect x="346.5" y="577.5" width="66" height="30.0" fill="#ffc7ce"/>
<rect x="412.5" y="577.5" width="66" height="30.0" fill="#ffc7ce"/>
<rect x="478.5" y="577.5" width="66" height="30.0" fill="#c6efce"/>
<rect x="544.5" y="577.5" width="66" height="30.0" fill="#c6efce"/>
<rect x="610.5" y="577.5" width="66" height="30.0" fill="#c6efce"/>
<rect x="676.5" y="577.5" width="66" height="30.0" fill="#ffc7ce"/>
<rect x="742.5" y="577.5" width="66" height="30.0" fill="#c6efce"/>
<rect x="808.5" y="577.5" width="66" height="30.0" fill="#c6efce"/>
<rect x="874.5" y="577.5" width="66" height="30.0" fill="#c6efce"/>
<rect x="940.5" y="577.5" width="67" height="30.0" fill="#ffc7ce"/>
<rect x="214.5" y="607.5" width="66" height="29.0" fill="#c6efce"/>
<rect x="280.5" y="607.5" width="66" height="29.0" fill="#c6efce"/>
<rect x="346.5" y="607.5" width="66" height="29.0" fill="#ffc7ce"/>
<rect x="412.5" y="607.5" width="66" height="29.0" fill="#c6efce"/>
<rect x="478.5" y="607.5" width="66" height="29.0" fill="#c6efce"/>
<rect x="544.5" y="607.5" width="66" height="29.0" fill="#c6efce"/>
<rect x="610.5" y="607.5" width="66" height="29.0" fill="#ffc7ce"/>
<rect x="676.5" y="607.5" width="66" height="29.0" fill="#ffc7ce"/>
<rect x="742.5" y="607.5" width="66" height="29.0" fill="#ffc7ce"/>
<rect x="808.5" y="607.5" width="66" height="29.0" fill="#c6efce"/>
<rect x="874.5" y="607.5" width="66" height="29.0" fill="#c6efce"/>
<rect x="940.5" y="607.5" width="67" height="29.0" fill="#c6efce"/>
<rect x="214.5" y="636.5" width="66" height="29.0" fill="#ffc7ce"/>
<rect x="280.5" y="636.5" width="66" height="29.0" fill="#c6efce"/>
<rect x="346.5" y="636.5" width="66" height="29.0" fill="#c6efce"/>
<rect x="412.5" y="636.5" width="66" height="29.0" fill="#c6efce"/>
<rect x="478.5" y="636.5" width="66" height="29.0" fill="#c6efce"/>
<rect x="544.5" y="636.5" width="66" height="29.0" fill="#c6efce"/>
<rect x="610.5" y="636.5" width="66" height="29.0" fill="#c6efce"/>
<rect x="676.5" y="636.5" width="66" height="29.0" fill="#ffc7ce"/>
<rect x="742.5" y="636.5" width="66" height="29.0" fill="#c6efce"/>
<rect x="808.5" y="636.5" width="66" height="29.0" fill="#c6efce"/>
<rect x="874.5" y="636.5" width="66" height="29.0" fill="#c6efce"/>
<path d="M0 519.5H1007 M0 548.5H1007 M0 577.5H1007 M0 607.5H1007 M0 636.5H1007 M0 665.5H1007 M214.5 519.5V665.5 M280.5 519.5V665.5 M346.5 519.5V665.5 M412.5 519.5V665.5 M478.5 519.5V665.5 M544.5 519.5V665.5 M610.5 519.5V665.5 M676.5 519.5V665.5 M742.5 519.5V665.5 M808.5 519.5V665.5 M874.5 519.5V665.5 M940.5 519.5V665.5 M0.5 489V665.5 M1006.5 488.6V665.5" stroke="#000" stroke-width="1" fill="none"/>
<g font-size="20.3" font-weight="bold">
<text x="66.3" y="541.5" textLength="81.3" lengthAdjust="spacingAndGlyphs">Indicator</text>
<text x="232.1" y="541.5" textLength="30.8" lengthAdjust="spacingAndGlyphs">Jun</text>
<text x="301.3" y="541.5" textLength="24.4" lengthAdjust="spacingAndGlyphs">Jul</text>
<text x="361.8" y="541.5" textLength="35.4" lengthAdjust="spacingAndGlyphs">Aug</text>
<text x="428.9" y="541.5" textLength="33.1" lengthAdjust="spacingAndGlyphs">Sep</text>
<text x="495.7" y="541.5" textLength="31.6" lengthAdjust="spacingAndGlyphs">Oct</text>
<text x="559.2" y="541.5" textLength="36.5" lengthAdjust="spacingAndGlyphs">Nov</text>
<text x="626.5" y="541.5" textLength="34.0" lengthAdjust="spacingAndGlyphs">Dec</text>
<text x="694.6" y="541.5" textLength="29.8" lengthAdjust="spacingAndGlyphs">Jan</text>
<text x="759.2" y="541.5" textLength="32.5" lengthAdjust="spacingAndGlyphs">Feb</text>
<text x="822.6" y="541.5" textLength="37.7" lengthAdjust="spacingAndGlyphs">Mar</text>
<text x="891.1" y="541.5" textLength="32.8" lengthAdjust="spacingAndGlyphs">Apr</text>
<text x="953.5" y="541.5" textLength="39.9" lengthAdjust="spacingAndGlyphs">May</text>
</g>
<text y="570.8" font-size="20.5" font-weight="bold" fill="#0000ff"><tspan x="4.6" textLength="115.5" lengthAdjust="spacingAndGlyphs">Employment</tspan></text>
<text y="600.6" font-size="20.5" font-weight="bold" fill="#7030a0"><tspan x="4.6" textLength="87.6" lengthAdjust="spacingAndGlyphs">Industrial</tspan> <tspan x="97.2" textLength="101.1" lengthAdjust="spacingAndGlyphs">Production</tspan></text>
<text y="629.7" font-size="20.5" font-weight="bold" fill="#00b050"><tspan x="4.6" textLength="38.3" lengthAdjust="spacingAndGlyphs">Real</tspan> <tspan x="47.8" textLength="45.2" lengthAdjust="spacingAndGlyphs">Sales</tspan></text>
<text y="658.7" font-size="20.5" font-weight="bold" fill="#c00000"><tspan x="4.6" textLength="39.0" lengthAdjust="spacingAndGlyphs">Real</tspan> <tspan x="48.5" textLength="66.9" lengthAdjust="spacingAndGlyphs">Income</tspan></text>
<g font-size="16.3">
<text x="232.3" y="570.8" fill="#006100" textLength="44.1" lengthAdjust="spacingAndGlyphs">0.16%</text>
<text x="298.4" y="570.8" fill="#006100" textLength="44.1" lengthAdjust="spacingAndGlyphs">0.13%</text>
<text x="364.4" y="570.8" fill="#006100" textLength="44.1" lengthAdjust="spacingAndGlyphs">0.15%</text>
<text x="430.4" y="570.8" fill="#006100" textLength="44.1" lengthAdjust="spacingAndGlyphs">0.01%</text>
<text x="496.4" y="570.8" fill="#006100" textLength="44.1" lengthAdjust="spacingAndGlyphs">0.18%</text>
<text x="562.4" y="570.8" fill="#006100" textLength="44.1" lengthAdjust="spacingAndGlyphs">0.15%</text>
<text x="628.4" y="570.8" fill="#006100" textLength="44.1" lengthAdjust="spacingAndGlyphs">0.12%</text>
<text x="694.4" y="570.8" fill="#006100" textLength="44.1" lengthAdjust="spacingAndGlyphs">0.12%</text>
<text x="760.4" y="570.8" fill="#006100" textLength="44.1" lengthAdjust="spacingAndGlyphs">0.22%</text>
<text x="826.4" y="570.8" fill="#006100" textLength="44.1" lengthAdjust="spacingAndGlyphs">0.10%</text>
<text x="892.4" y="570.8" fill="#006100" textLength="44.1" lengthAdjust="spacingAndGlyphs">0.11%</text>
<text x="958.4" y="570.8" fill="#006100" textLength="44.1" lengthAdjust="spacingAndGlyphs">0.15%</text>
<text x="232.3" y="600.6" fill="#006100" textLength="44.1" lengthAdjust="spacingAndGlyphs">0.06%</text>
<text x="292.9" y="600.6" fill="#9c0006" textLength="49.6" lengthAdjust="spacingAndGlyphs">-0.14%</text>
<text x="358.9" y="600.6" fill="#9c0006" textLength="49.6" lengthAdjust="spacingAndGlyphs">-0.41%</text>
<text x="424.9" y="600.6" fill="#9c0006" textLength="49.6" lengthAdjust="spacingAndGlyphs">-0.02%</text>
<text x="496.4" y="600.6" fill="#006100" textLength="44.1" lengthAdjust="spacingAndGlyphs">1.54%</text>
<text x="562.4" y="600.6" fill="#006100" textLength="44.1" lengthAdjust="spacingAndGlyphs">0.51%</text>
<text x="628.4" y="600.6" fill="#006100" textLength="44.1" lengthAdjust="spacingAndGlyphs">0.45%</text>
<text x="688.9" y="600.6" fill="#9c0006" textLength="49.6" lengthAdjust="spacingAndGlyphs">-0.32%</text>
<text x="760.4" y="600.6" fill="#006100" textLength="44.1" lengthAdjust="spacingAndGlyphs">0.42%</text>
<text x="826.4" y="600.6" fill="#006100" textLength="44.1" lengthAdjust="spacingAndGlyphs">0.52%</text>
<text x="892.4" y="600.6" fill="#006100" textLength="44.1" lengthAdjust="spacingAndGlyphs">0.91%</text>
<text x="952.9" y="600.6" fill="#9c0006" textLength="49.6" lengthAdjust="spacingAndGlyphs">-0.09%</text>
<text x="232.3" y="629.7" fill="#006100" textLength="44.1" lengthAdjust="spacingAndGlyphs">0.34%</text>
<text x="298.4" y="629.7" fill="#006100" textLength="44.1" lengthAdjust="spacingAndGlyphs">0.14%</text>
<text x="358.9" y="629.7" fill="#9c0006" textLength="49.6" lengthAdjust="spacingAndGlyphs">-0.39%</text>
<text x="430.4" y="629.7" fill="#006100" textLength="44.1" lengthAdjust="spacingAndGlyphs">1.41%</text>
<text x="496.4" y="629.7" fill="#006100" textLength="44.1" lengthAdjust="spacingAndGlyphs">0.48%</text>
<text x="562.4" y="629.7" fill="#006100" textLength="44.1" lengthAdjust="spacingAndGlyphs">0.43%</text>
<text x="622.9" y="629.7" fill="#9c0006" textLength="49.6" lengthAdjust="spacingAndGlyphs">-0.20%</text>
<text x="688.9" y="629.7" fill="#9c0006" textLength="49.6" lengthAdjust="spacingAndGlyphs">-0.66%</text>
<text x="754.9" y="629.7" fill="#9c0006" textLength="49.6" lengthAdjust="spacingAndGlyphs">-0.05%</text>
<text x="826.4" y="629.7" fill="#006100" textLength="44.1" lengthAdjust="spacingAndGlyphs">0.78%</text>
<text x="892.4" y="629.7" fill="#006100" textLength="44.1" lengthAdjust="spacingAndGlyphs">0.14%</text>
<text x="958.4" y="629.7" fill="#006100" textLength="44.1" lengthAdjust="spacingAndGlyphs">0.62%</text>
<text x="226.9" y="658.7" fill="#9c0006" textLength="49.6" lengthAdjust="spacingAndGlyphs">-0.10%</text>
<text x="298.4" y="658.7" fill="#006100" textLength="44.1" lengthAdjust="spacingAndGlyphs">0.33%</text>
<text x="364.4" y="658.7" fill="#006100" textLength="44.1" lengthAdjust="spacingAndGlyphs">0.03%</text>
<text x="430.4" y="658.7" fill="#006100" textLength="44.1" lengthAdjust="spacingAndGlyphs">0.06%</text>
<text x="496.4" y="658.7" fill="#006100" textLength="44.1" lengthAdjust="spacingAndGlyphs">0.23%</text>
<text x="562.4" y="658.7" fill="#006100" textLength="44.1" lengthAdjust="spacingAndGlyphs">0.37%</text>
<text x="628.4" y="658.7" fill="#006100" textLength="44.1" lengthAdjust="spacingAndGlyphs">0.32%</text>
<text x="688.9" y="658.7" fill="#9c0006" textLength="49.6" lengthAdjust="spacingAndGlyphs">-0.17%</text>
<text x="760.4" y="658.7" fill="#006100" textLength="44.1" lengthAdjust="spacingAndGlyphs">0.25%</text>
<text x="826.4" y="658.7" fill="#006100" textLength="44.1" lengthAdjust="spacingAndGlyphs">0.18%</text>
<text x="892.4" y="658.7" fill="#006100" textLength="44.1" lengthAdjust="spacingAndGlyphs">0.08%</text>
</g>
<text y="686.6" font-size="18.9" font-style="italic"><tspan x="4.8" textLength="102.8" lengthAdjust="spacingAndGlyphs">Employment</tspan> <tspan x="112.2" textLength="12.5" lengthAdjust="spacingAndGlyphs">is</tspan> <tspan x="129.3" textLength="69.3" lengthAdjust="spacingAndGlyphs">released</tspan> <tspan x="203.2" textLength="26.9" lengthAdjust="spacingAndGlyphs">the</tspan> <tspan x="234.6" textLength="32.1" lengthAdjust="spacingAndGlyphs">first</tspan> <tspan x="271.3" textLength="43.0" lengthAdjust="spacingAndGlyphs">week</tspan> <tspan x="318.9" textLength="16.6" lengthAdjust="spacingAndGlyphs">of</tspan> <tspan x="340.0" textLength="26.9" lengthAdjust="spacingAndGlyphs">the</tspan> <tspan x="371.4" textLength="58.9" lengthAdjust="spacingAndGlyphs">month,</tspan> <tspan x="434.9" textLength="59.8" lengthAdjust="spacingAndGlyphs">Income</tspan> <tspan x="499.3" textLength="26.9" lengthAdjust="spacingAndGlyphs">the</tspan> <tspan x="530.8" textLength="29.5" lengthAdjust="spacingAndGlyphs">last</tspan> <tspan x="564.8" textLength="48.1" lengthAdjust="spacingAndGlyphs">week,</tspan> <tspan x="617.5" textLength="77.4" lengthAdjust="spacingAndGlyphs">Industrial</tspan> <tspan x="699.5" textLength="89.1" lengthAdjust="spacingAndGlyphs">Production</tspan> <tspan x="793.2" textLength="31.2" lengthAdjust="spacingAndGlyphs">and</tspan> <tspan x="829.0" textLength="41.8" lengthAdjust="spacingAndGlyphs">Sales</tspan> <tspan x="875.3" textLength="96.2" lengthAdjust="spacingAndGlyphs">mid-month.</tspan></text>
</svg>
</body></html>
